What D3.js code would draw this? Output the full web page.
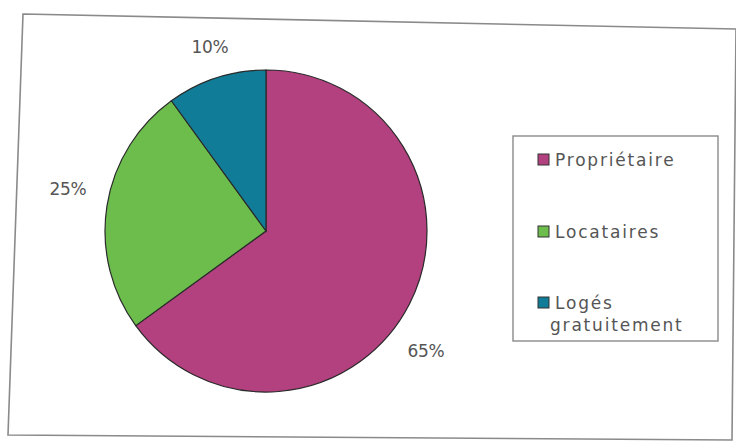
<!DOCTYPE html>
<html><head><meta charset="utf-8">
<script src="https://cdn.jsdelivr.net/npm/d3@7"></script>
<style>body{margin:0;background:#fff}svg{display:block}</style>
</head><body>
<script>
const categories = ["Propriétaire", "Locataires", "Logés gratuitement"];
const values = [65, 25, 10];
const labels = ["65%", "25%", "10%"];
const colors = ["#b3407f", "#6cbd4c", "#117c97"];

const W = 736, H = 443;
const svg = d3.select("body").append("svg").attr("width", W).attr("height", H);

// outer frame (slightly skewed like the scan)
svg.append("path")
  .attr("d", "M23,14 L736,29 L732,440 L8,435 Z")
  .attr("fill", "#fff").attr("stroke", "#8a8a8a").attr("stroke-width", 1.6);

const cx = 266, cy = 231, r = 161;
const pie = d3.pie().sort(null).value(d => d)(values);
const arc = d3.arc().innerRadius(0).outerRadius(r);
const g = svg.append("g").attr("transform", `translate(${cx},${cy})`);
g.selectAll("path").data(pie).join("path")
  .attr("d", arc)
  .attr("fill", (d, i) => colors[i])
  .attr("stroke", "#2a2a2a").attr("stroke-width", 1.2);

const labelPos = [[426, 352], [68, 190], [210, 48]];
svg.selectAll("text.lbl").data(labels).join("text")
  .attr("class", "lbl")
  .attr("x", (d, i) => labelPos[i][0]).attr("y", (d, i) => labelPos[i][1])
  .attr("text-anchor", "middle").attr("dominant-baseline", "middle")
  .attr("font-family", "DejaVu Sans, sans-serif").attr("font-size", 17)
  .attr("fill", "#555").attr("letter-spacing", -0.3)
  .text(d => d);

// legend
svg.append("rect").attr("x", 513).attr("y", 136).attr("width", 205).attr("height", 205)
  .attr("fill", "#fff").attr("stroke", "#8a8a8a").attr("stroke-width", 1.4);

const legY = [160, 232, 303];
const lg = svg.selectAll("g.leg").data(categories).join("g").attr("class", "leg");
lg.append("rect")
  .attr("x", 538).attr("y", (d, i) => legY[i] - 6).attr("width", 11).attr("height", 11)
  .attr("fill", (d, i) => colors[i]).attr("stroke", "#333").attr("stroke-width", 1);
lg.append("text")
  .attr("x", 555).attr("y", (d, i) => legY[i] + 6)
  .attr("font-family", "DejaVu Sans, sans-serif").attr("font-size", 17)
  .attr("letter-spacing", 1.8)
  .attr("fill", "#555")
  .each(function(d) {
    const t = d3.select(this);
    if (d === "Logés gratuitement") {
      t.append("tspan").text("Logés");
      t.append("tspan").attr("x", 550).attr("dy", 22).text("gratuitement");
    } else t.text(d);
  });
</script>
</body></html>
